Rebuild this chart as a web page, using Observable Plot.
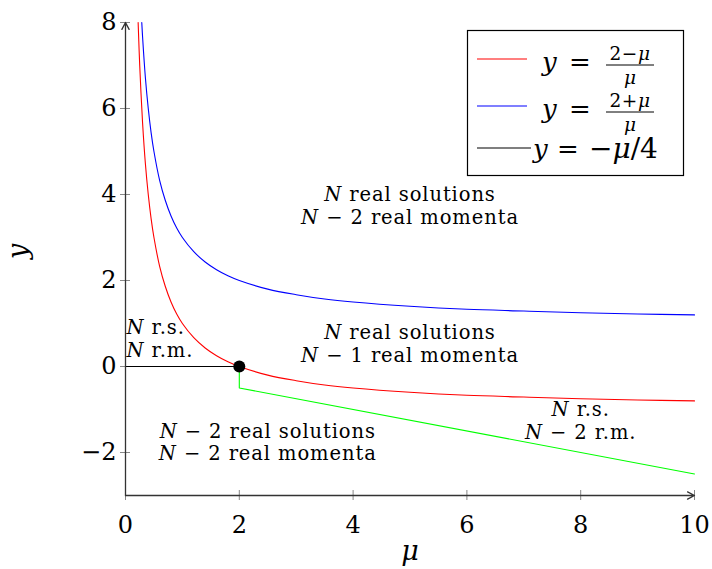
<!DOCTYPE html>
<html><head><meta charset="utf-8">
<script src="https://cdn.jsdelivr.net/npm/d3@7"></script>
<script src="https://cdn.jsdelivr.net/npm/@observablehq/plot@0.6"></script>
<style>
html,body{margin:0;padding:0;background:#fff;}
#chart{width:712px;height:569px;}
</style></head><body><div id="chart"></div>
<script>
// ---- data ----
const muDomain = [0, 10];
const yDomain = [-3, 8];
const xTicks = [0, 2, 4, 6, 8, 10];
const yTicks = [-2, 0, 2, 4, 6, 8];

const muRed = [0.222,0.25,0.3,0.35,0.4,0.45,0.5,0.6,0.7,0.8,0.9,1,1.2,1.4,1.6,1.8,2,2.5,3,3.5,4,5,6,7,8,9,10];
const yRed  = [8,7,5.67,4.71,4,3.44,3,2.33,1.86,1.5,1.22,1,0.67,0.43,0.25,0.11,0,-0.2,-0.33,-0.43,-0.5,-0.6,-0.67,-0.71,-0.75,-0.78,-0.8];

const muBlue = [0.286,0.3,0.35,0.4,0.45,0.5,0.6,0.7,0.8,0.9,1,1.2,1.4,1.6,1.8,2,2.5,3,3.5,4,5,6,7,8,9,10];
const yBlue  = [8,7.67,6.71,6,5.44,5,4.33,3.86,3.5,3.22,3,2.67,2.43,2.25,2.11,2,1.8,1.67,1.57,1.5,1.4,1.33,1.29,1.25,1.22,1.2];

const muGreen = [2, 2, 10];
const yGreen  = [0, -0.5, -2.5];

const muBlack = [0, 2];
const yBlack  = [0, 0];

const critMu = [2];
const critY = [0];

const annotMu = [5, 5, 2.5, 8];
const annotY  = [3.75, 0.55, -1.75, -1.25];
const annotText = [
  "N real solutions\nN − 2 real momenta",
  "N real solutions\nN − 1 real momenta",
  "N − 2 real solutions\nN − 2 real momenta",
  "N r.s.\nN − 2 r.m."
];
const leftAnnotMu = [0];
const leftAnnotY = [0.65];
const leftAnnotText = ["N r.s.\nN r.m."];

const legendColors = ["#ff0000", "#0000ff", "#000000"];
const legendNum = ["2−μ", "2+μ", null];
const legendDen = ["μ", "μ", null];
const legendPlain = [null, null, "−μ/4"];

// ---- tables built from the arrays ----
const zip = (xs, ys) => xs.map((x, i) => ({x, y: ys[i]}));
const red = zip(muRed, yRed);
const blue = zip(muBlue, yBlue);
const green = zip(muGreen, yGreen);
const black = zip(muBlack, yBlack);
const crit = zip(critMu, critY);
const annots = annotMu.map((x, i) => ({x, y: annotY[i], t: annotText[i]}));
const leftAnnots = leftAnnotMu.map((x, i) => ({x, y: leftAnnotY[i], t: leftAnnotText[i]}));
const axes = [
  {x1: muDomain[0], y1: yDomain[0], x2: muDomain[1], y2: yDomain[0]},
  {x1: muDomain[0], y1: yDomain[0], x2: muDomain[0], y2: yDomain[1]}
];

const W = 712, H = 569, mL = 125, mR = 18, mT = 22, mB = 74;
const frameW = W - mL - mR, frameH = H - mT - mB;
const FONT = '"DejaVu Serif", "Liberation Serif", serif';

const plot = Plot.plot({
  width: W, height: H,
  marginLeft: mL, marginRight: mR, marginTop: mT, marginBottom: mB,
  x: {domain: muDomain},
  y: {domain: yDomain},
  style: {fontFamily: FONT, background: "#fff", color: "#000"},
  marks: [
    Plot.axisX({ticks: xTicks, tickSize: 0, tickPadding: 20, fontSize: 24, label: null}),
    Plot.axisY({ticks: yTicks, tickSize: 0, tickPadding: 9, fontSize: 24, label: null}),
    Plot.tickX(xTicks, {x: d => d, stroke: "#888", strokeWidth: 1, insetTop: frameH - 5, insetBottom: -5}),
    Plot.tickY(yTicks, {y: d => d, stroke: "#888", strokeWidth: 1, insetLeft: -5, insetRight: frameW - 5}),
    Plot.line(red, {x: "x", y: "y", stroke: "#ff0000", strokeWidth: 1.1, curve: "catmull-rom"}),
    Plot.line(blue, {x: "x", y: "y", stroke: "#0000ff", strokeWidth: 1.1, curve: "catmull-rom"}),
    Plot.line(green, {x: "x", y: "y", stroke: "#00ff00", strokeWidth: 1.1}),
    Plot.line(black, {x: "x", y: "y", stroke: "#000", strokeWidth: 1.1}),
    Plot.arrow(axes, {x1: "x1", y1: "y1", x2: "x2", y2: "y2", stroke: "#333", strokeWidth: 1.3, headLength: 9, headAngle: 55}),
    Plot.dot(crit, {x: "x", y: "y", r: 6, fill: "#000"}),
    Plot.text(annots, {x: "x", y: "y", text: "t", fontSize: 19.5, lineHeight: 1.17, textAnchor: "middle", className: "annot"}),
    Plot.text(leftAnnots, {x: "x", y: "y", text: "t", fontSize: 19.5, lineHeight: 1.17, textAnchor: "start", dx: 1, className: "annot"}),
    Plot.text(["y"], {text: d => d, frameAnchor: "left", dx: -107, rotate: -90, fontSize: 27, fontStyle: "italic"}),
    Plot.text(["μ"], {text: d => d, frameAnchor: "bottom", dy: 64, fontSize: 27, fontStyle: "italic"})
  ]
});

// italic N in annotations, slightly wider tracking like the reference
d3.select(plot).selectAll("g.annot").attr("letter-spacing", "0.9px");
d3.select(plot).selectAll(".annot tspan").each(function() {
  const s = this.textContent;
  const sel = d3.select(this);
  sel.text(null);
  s.split(/(N)/).forEach(part => {
    if (!part) return;
    if (part === "N") sel.append("tspan").attr("font-style", "italic").text("N");
    else sel.append("tspan").text(part);
  });
});

// legend box inside the plot
const svg = d3.select(plot);
const lg = svg.append("g").attr("font-family", FONT).attr("text-anchor", "start");
lg.append("rect").attr("x", 467.5).attr("y", 30.5).attr("width", 216).attr("height", 145)
  .attr("fill", "#fff").attr("stroke", "#000").attr("stroke-width", 1.2);
const rowY = [59, 106, 148];
legendColors.forEach((c, i) => {
  const y0 = rowY[i];
  lg.append("line").attr("x1", 477).attr("x2", i === 2 ? 531 : 527).attr("y1", y0).attr("y2", y0)
    .attr("stroke", c).attr("stroke-width", 1.1);
  if (legendNum[i]) {
    const base = y0 + 12;
    lg.append("text").attr("x", 542).attr("y", base).attr("font-size", 26).attr("font-style", "italic").text("y");
    lg.append("text").attr("x", 569).attr("y", base).attr("font-size", 26).text("=");
    lg.append("line").attr("x1", 606).attr("x2", 654).attr("y1", y0 + 6).attr("y2", y0 + 6).attr("stroke", "#000").attr("stroke-width", 1);
    const num = lg.append("text").attr("x", 630).attr("y", y0 + 1).attr("font-size", 18.5)
      .attr("text-anchor", "middle").attr("letter-spacing", "0.6px");
    legendNum[i].split(/(μ)/).forEach(p => { if (!p) return; const t = num.append("tspan").text(p); if (p === "μ") t.attr("font-style", "italic"); });
    lg.append("text").attr("x", 630).attr("y", y0 + 24.5).attr("font-size", 18.5).attr("text-anchor", "middle").attr("font-style", "italic").text(legendDen[i]);
  } else {
    const base = y0 + 10;
    lg.append("text").attr("x", 533).attr("y", base).attr("font-size", 26).attr("font-style", "italic").text("y");
    lg.append("text").attr("x", 557).attr("y", base).attr("font-size", 26).text("=");
    const t = lg.append("text").attr("x", 589).attr("y", base).attr("font-size", 28);
    legendPlain[i].split(/(μ)/).forEach(p => { if (!p) return; const s = t.append("tspan").text(p); if (p === "μ") s.attr("font-style", "italic"); });
  }
});

document.getElementById("chart").appendChild(plot);
</script>
</body></html>
